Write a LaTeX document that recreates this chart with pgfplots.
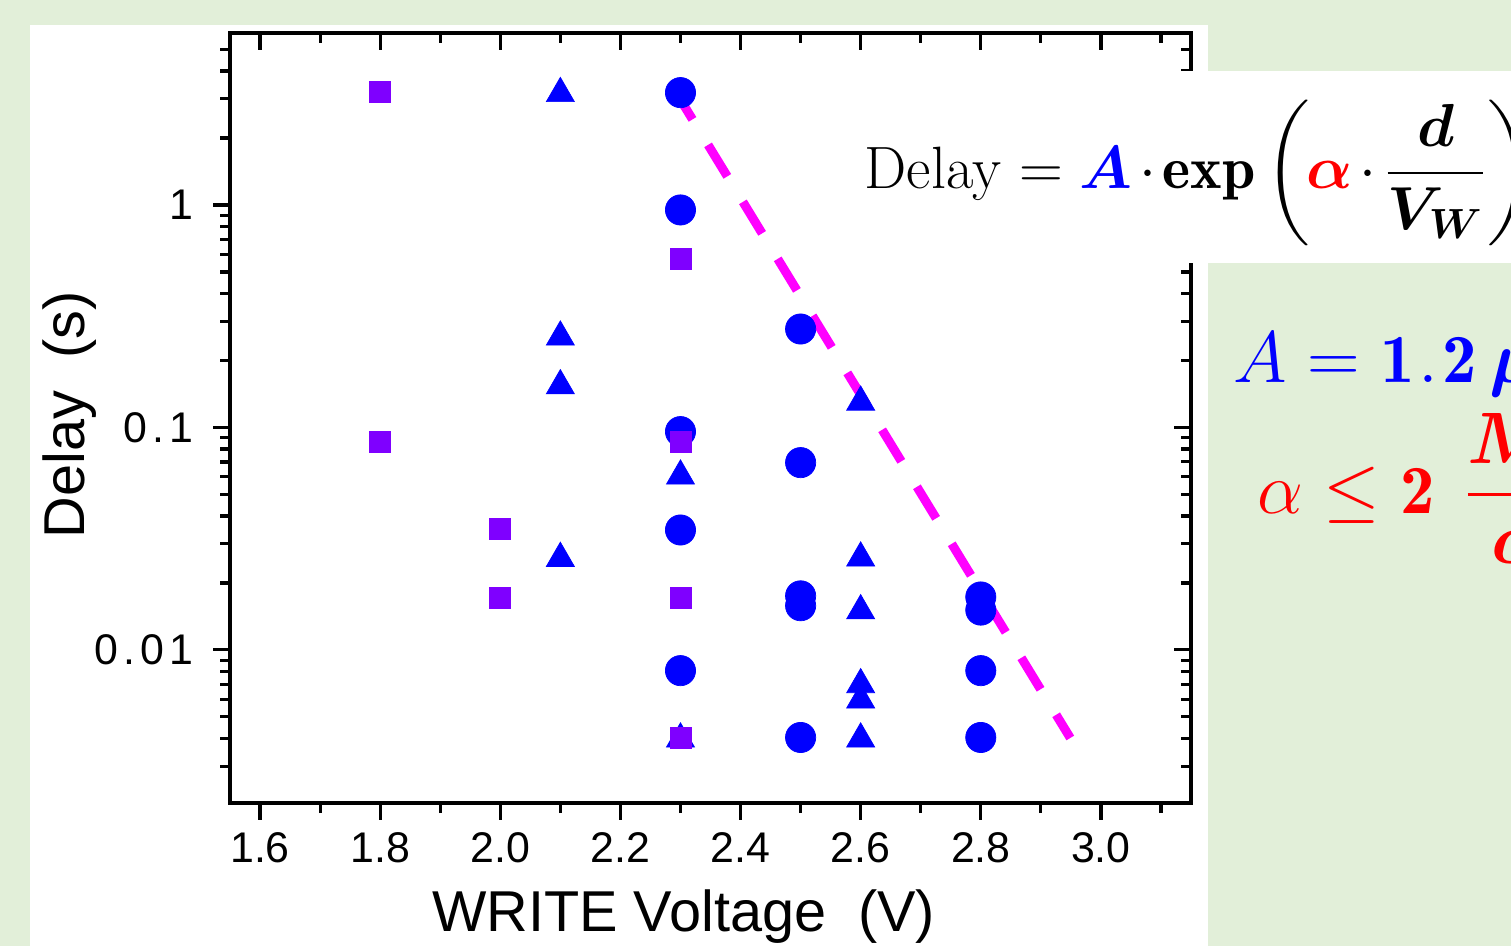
\documentclass[border=0pt]{standalone}
\usepackage{amsmath,bm}
\usepackage{fontspec}
\newfontfamily\arial{Liberation Sans}
\newfontfamily\arialsp[LetterSpace=12]{Liberation Sans}
\usepackage{pgfplots}
\usepackage{pgfplotstable}
\pgfplotsset{compat=1.18}
\definecolor{bggreen}{HTML}{E2EFD9}
\definecolor{mkblue}{HTML}{0000FF}
\definecolor{mkviolet}{HTML}{7F00FF}
\definecolor{fitmag}{HTML}{FF00FF}

\pgfplotstableread{
x y
1.8 3.22
1.8 0.0863
2.0 0.0349
2.0 0.0171
2.3 0.572
2.3 0.0863
2.3 0.0171
2.3 0.00402
}\squaredata

\pgfplotstableread{
x y
2.1 3.17
2.1 0.255
2.1 0.154
2.1 0.0258
2.3 0.0605
2.3 0.00398
2.6 0.130
2.6 0.0259
2.6 0.0150
2.6 0.00698
2.6 0.00596
2.6 0.00398
}\triangledata

\pgfplotstableread{
x y
2.3 3.20
2.3 0.950
2.3 0.0958
2.3 0.0346
2.3 0.00807
2.5 0.277
2.5 0.0695
2.5 0.0175
2.5 0.0158
2.5 0.00404
2.8 0.0173
2.8 0.0151
2.8 0.00807
2.8 0.00404
}\circledata

\begin{document}
\begin{tikzpicture}[x=1cm,y=1cm]
\path[use as bounding box] (0,0) rectangle (15.11,9.46);
\clip (0,0) rectangle (15.11,9.46);
\fill[bggreen] (0,0) rectangle (15.11,9.46);
\fill[white] (0.30,0) rectangle (12.08,9.21);

\begin{axis}[
  at={(2.30cm,1.43cm)}, anchor=south west,
  scale only axis, width=9.61cm, height=7.70cm,
  xmin=1.55, xmax=3.15, ymode=log, ymin=0.00205, ymax=5.93,
  xtick={1.6,1.8,2.0,2.2,2.4,2.6,2.8,3.0},
  minor xtick={1.7,1.9,2.1,2.3,2.5,2.7,2.9,3.1},
  ytick={0.01,0.1,1},
  minor ytick={0.003,0.004,0.005,0.006,0.007,0.008,0.009,0.02,0.03,0.04,0.05,0.06,0.07,0.08,0.09,0.2,0.3,0.4,0.5,0.6,0.7,0.8,0.9,2,3,4,5},
  axis line style={line width=1pt},
  every tick/.style={black, line width=0.9pt},
  major tick length=0.17cm, minor tick length=0.10cm,
  tick align=inside, xtick pos=right, ytick pos=right,
  xticklabels={}, yticklabels={}]
\end{axis}

\begin{axis}[
  at={(2.30cm,1.43cm)}, anchor=south west,
  scale only axis, width=9.61cm, height=7.70cm,
  xmin=1.55, xmax=3.15, ymode=log, ymin=0.00205, ymax=5.93,
  xtick={1.6,1.8,2.0,2.2,2.4,2.6,2.8,3.0},
  minor xtick={1.7,1.9,2.1,2.3,2.5,2.7,2.9,3.1},
  ytick={0.01,0.1,1},
  minor ytick={0.003,0.004,0.005,0.006,0.007,0.008,0.009,0.02,0.03,0.04,0.05,0.06,0.07,0.08,0.09,0.2,0.3,0.4,0.5,0.6,0.7,0.8,0.9,2,3,4,5},
  axis line style={line width=1pt},
  every tick/.style={black, line width=0.9pt},
  major tick length=0.17cm, minor tick length=0.10cm,
  tick align=outside, xtick pos=left, ytick pos=left,
  xticklabels={1.6,1.8,2.0,2.2,2.4,2.6,2.8,3.0},
  yticklabels={0.01,0.1,1},
  /pgf/number format/assume math mode=true,
  xticklabel style={font=\arial\fontsize{12.2}{14}\selectfont},
  yticklabel style={font=\arialsp\fontsize{12.2}{14}\selectfont, xshift=-0.07cm},
  xlabel={WRITE Voltage\ \ (V)},
  ylabel={Delay\ \ (s)},
  label style={font=\arial\fontsize{16.4}{19}\selectfont},
  xlabel style={at={(axis description cs:0.472,-0.148)}, anchor=center},
  ylabel style={at={(axis description cs:-0.1665,0.504)}, anchor=center},
]
\addplot[only marks, mark=triangle*, mark size=4.6pt,
  mark options={fill=mkblue, draw=mkblue, line width=0.2pt}] table {\triangledata};
\addplot[only marks, mark=*, mark size=4.3pt,
  mark options={fill=mkblue, draw=mkblue, line width=0.2pt}] table {\circledata};
\addplot[only marks, mark=square*, mark size=3.0pt,
  mark options={fill=mkviolet, draw=mkviolet, line width=0.2pt}] table {\squaredata};
\addplot[fitmag, line width=2.55pt, dash pattern=on 10.5pt off 8.5pt]
  coordinates {(2.288,3.36) (2.949,0.00402)};
\end{axis}

% formula box
\fill[white] (8.40,6.83) rectangle (15.11,8.75);
\node[anchor=base west, inner sep=0pt] at (8.64,7.58)
  {\fontsize{17}{20}\selectfont Delay $= {\color{mkblue}\bm{A}}\mkern-2mu\cdot\mkern-2mu\mathbf{exp}\left(\mkern-1mu{\color{red}\bm{\alpha}}\mkern-2mu\cdot\mkern-2mu\dfrac{\bm{d}}{\bm{V_{W}}}\right)$};

% right-hand parameters
\node[anchor=base west, inner sep=0pt, text=mkblue] at (12.33,5.64)
  {\fontsize{19.6}{23}\selectfont $A=\mathbf{1}\mkern1mu\mathbf{.}\mkern1mu\mathbf{2}\,\bm{\mu}\mathbf{s}$};
\node[anchor=base west, inner sep=0pt, text=red] at (12.57,4.33)
  {\fontsize{19.6}{23}\selectfont $\alpha\le\mathbf{2}\mkern7mu\dfrac{\bm{MV}}{\bm{cm}}$};
\end{tikzpicture}
\end{document}
